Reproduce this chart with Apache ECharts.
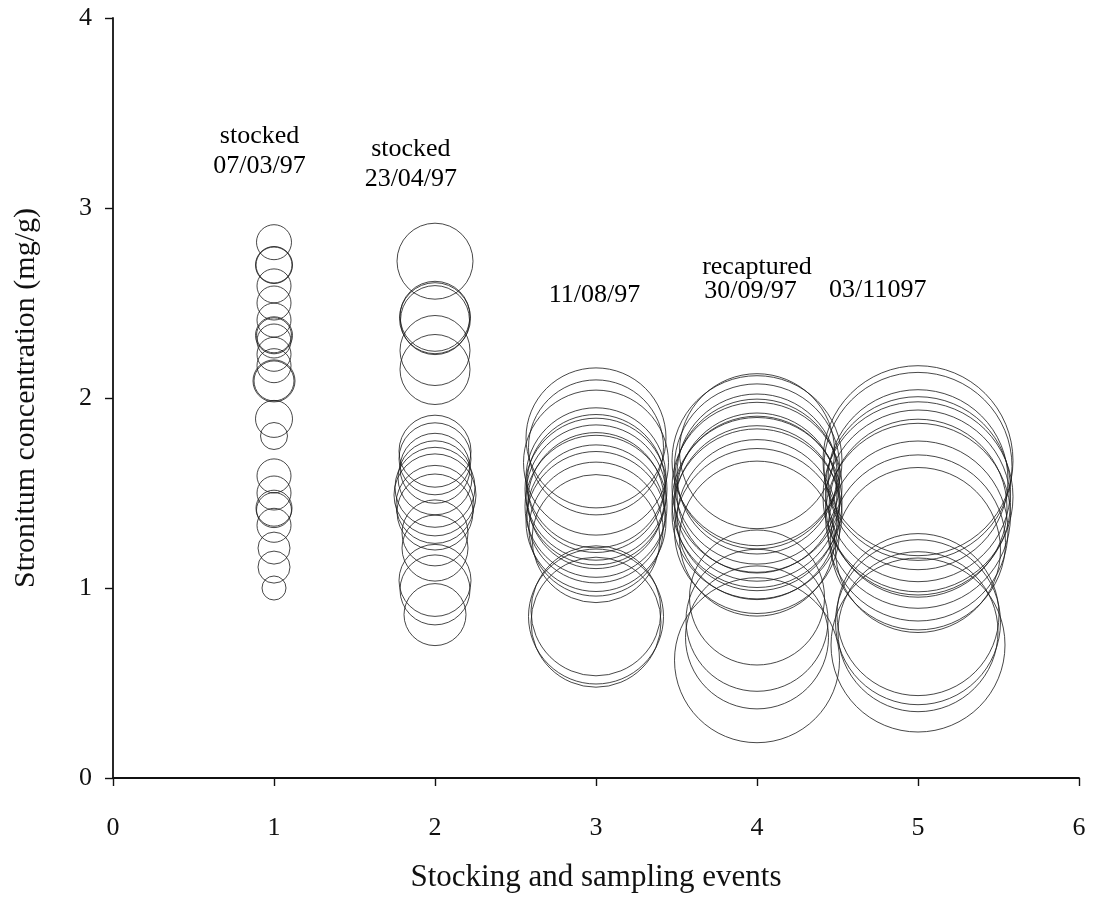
<!DOCTYPE html>
<html>
<head>
<meta charset="utf-8">
<script src="https://cdn.jsdelivr.net/npm/echarts@6/dist/echarts.min.js"></script>
<style>
html,body{margin:0;padding:0;background:#fff;}
#chart{width:1096px;height:911px;}
</style>
</head>
<body>
<div id="chart"></div>
<script>
// ---- data ----
const xTicks = [0, 1, 2, 3, 4, 5, 6];
const yTicks = [0, 1, 2, 3, 4];
const events = [1, 2, 3, 4, 5];

// Strontium concentration (mg/g) for each fish, per event
const sr1 = [2.82, 2.70, 2.70, 2.59, 2.50, 2.41, 2.33, 2.33, 2.30, 2.23, 2.17, 2.09, 2.09, 1.89, 1.80, 1.59, 1.50, 1.42, 1.41, 1.33, 1.21, 1.11, 1.00];
const sr2 = [2.72, 2.43, 2.42, 2.41, 2.25, 2.15, 1.72, 1.68, 1.63, 1.58, 1.53, 1.49, 1.44, 1.40, 1.29, 1.21, 1.04, 0.99, 0.86];
const sr3 = [1.79, 1.74, 1.66, 1.58, 1.55, 1.52, 1.49, 1.46, 1.43, 1.39, 1.35, 1.31, 1.26, 0.88, 0.85, 0.82];
const sr4 = [1.72, 1.67, 1.64, 1.60, 1.56, 1.53, 1.50, 1.47, 1.45, 1.42, 1.39, 1.36, 1.30, 1.26, 0.95, 0.83, 0.74, 0.62];
const sr5 = [1.67, 1.64, 1.57, 1.52, 1.48, 1.45, 1.42, 1.38, 1.30, 1.24, 1.20, 0.86, 0.82, 0.77, 0.70];

// relative fish size (bubble size), per event
const size1 = [3.5, 3.7, 3.6, 3.4, 3.4, 3.4, 3.7, 3.5, 3.4, 3.4, 3.4, 4.2, 4.0, 3.7, 2.7, 3.4, 3.4, 3.6, 3.5, 3.4, 3.2, 3.2, 2.4];
const size2 = [7.6, 7.0, 7.1, 6.9, 7.0, 7.0, 7.2, 7.2, 7.0, 7.4, 8.0, 8.2, 7.8, 7.6, 6.6, 6.6, 7.2, 7.0, 6.2];
const size3 = [14.0, 13.5, 14.5, 14.0, 13.8, 14.2, 14.0, 13.6, 14.2, 13.8, 14.0, 13.4, 12.8, 13.0, 13.5, 13.0];
const size4 = [15.5, 17.0, 16.5, 16.0, 16.5, 17.0, 16.0, 16.5, 17.0, 16.5, 17.0, 16.0, 16.5, 15.5, 13.5, 14.2, 14.3, 16.5];
const size5 = [19.0, 18.8, 18.0, 18.5, 19.0, 18.5, 17.8, 18.5, 18.0, 17.5, 16.5, 16.2, 16.5, 16.0, 17.4];

// annotation texts and their data positions
const annoText = ['stocked', '07/03/97', 'stocked', '23/04/97', '11/08/97', 'recaptured', '30/09/97', '03/11097'];
const annoX = [0.91, 0.91, 1.85, 1.85, 2.99, 4.00, 3.96, 4.75];
const annoY = [3.38, 3.22, 3.31, 3.15, 2.54, 2.69, 2.56, 2.57];

// ---- build ----
const srList = [sr1, sr2, sr3, sr4, sr5];
const sizeList = [size1, size2, size3, size4, size5];
const SIZE_SCALE = 10;
const FONT = '"Liberation Serif", "Times New Roman", serif';

const bubbleSeries = events.map((ev, i) => ({
  type: 'scatter',
  symbol: 'circle',
  data: srList[i].map((v, j) => [ev, v, sizeList[i][j]]),
  symbolSize: d => d[2] * SIZE_SCALE,
  itemStyle: { color: 'rgba(0,0,0,0)', borderColor: '#1a1a1a', borderWidth: 1 },
  emphasis: { disabled: true },
  silent: true,
  z: 2
}));

const annoSeries = {
  type: 'scatter',
  symbolSize: 0,
  itemStyle: { color: '#000', opacity: 1 },
  data: annoText.map((t, i) => ({ name: t, value: [annoX[i], annoY[i]] })),
  label: {
    show: true,
    position: 'inside',
    formatter: p => p.name,
    fontFamily: FONT,
    fontSize: 26,
    color: '#000',
    opacity: 1,
    textBorderWidth: 0
  },
  emphasis: { disabled: true },
  silent: true,
  z: 5
};

const chart = echarts.init(document.getElementById('chart'), null, { renderer: 'canvas' });
chart.setOption({
  animation: false,
  backgroundColor: '#fff',
  grid: { left: 113, right: 17, top: 18, bottom: 133, containLabel: false },
  xAxis: {
    type: 'value',
    min: xTicks[0],
    max: xTicks[xTicks.length - 1],
    interval: 1,
    name: 'Stocking and sampling events',
    nameLocation: 'middle',
    nameGap: 84,
    nameTextStyle: { fontFamily: FONT, fontSize: 31, color: '#111' },
    axisLine: { show: true, onZero: false, lineStyle: { color: '#111', width: 1.8 } },
    axisTick: { show: true, length: 8, lineStyle: { color: '#111', width: 1.4 } },
    axisLabel: { fontFamily: FONT, fontSize: 26, color: '#111', margin: 37 },
    splitLine: { show: false }
  },
  yAxis: {
    type: 'value',
    min: yTicks[0],
    max: yTicks[yTicks.length - 1],
    interval: 1,
    name: 'Stronitum concentration (mg/g)',
    nameLocation: 'middle',
    nameRotate: 90,
    nameGap: 72,
    nameTextStyle: { fontFamily: FONT, fontSize: 30, color: '#111' },
    axisLine: { show: true, onZero: false, lineStyle: { color: '#111', width: 1.8 } },
    axisTick: { show: true, length: 8, lineStyle: { color: '#111', width: 1.4 } },
    axisLabel: { fontFamily: FONT, fontSize: 26, color: '#111', margin: 21 },
    splitLine: { show: false }
  },
  series: bubbleSeries.concat([annoSeries])
});
</script>
</body>
</html>
